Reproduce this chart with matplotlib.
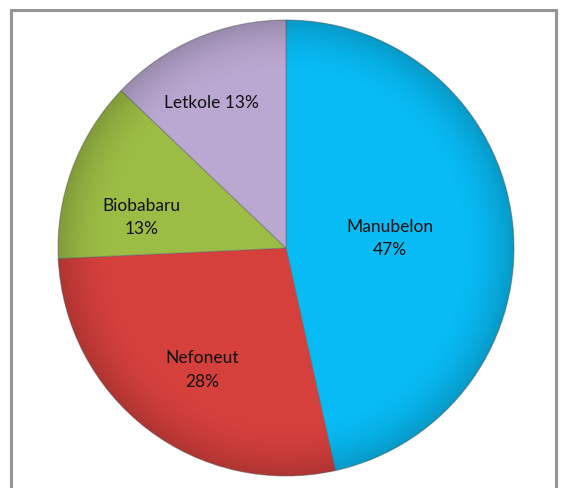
import numpy as np
import matplotlib.pyplot as plt
from matplotlib.patches import Rectangle, Circle

labels = ["Manubelon", "Nefoneut", "Biobabaru", "Letkole"]
values = [47, 28, 13, 13]
pct_text = ["Manubelon\n47%", "Nefoneut\n28%", "Biobabaru\n13%", "Letkole 13%"]
colors = ["#08BBF4", "#D5403D", "#9CBD45", "#BBA8D2"]

# label placement (radius fraction, angle offset in degrees from wedge middle)
lab_r = [0.457, 0.649, 0.646, 0.714]
lab_da = [-1, 3, 8.7, 4]

fig = plt.figure(figsize=(5.61, 4.88), dpi=100)
ax = fig.add_axes([0, 0, 1, 1])

wedges, _ = ax.pie(values, colors=colors, startangle=90, counterclock=False,
                   radius=1.0, wedgeprops=dict(edgecolor=(0.4, 0.4, 0.4, 0.5), linewidth=0.8))

# pie() resets the limits, so set them afterwards
ax.set_xlim(-286 / 228, 275 / 228)
ax.set_ylim(-240 / 228, 248 / 228)
ax.set_aspect("equal")
ax.axis("off")

# soft darkening toward the rim, like the office bevel look
n = 400
g = np.linspace(-1, 1, n)
X, Y = np.meshgrid(g, g)
R = np.sqrt(X ** 2 + Y ** 2)
shade = np.zeros((n, n, 4))
shade[..., 3] = np.clip((R - 0.75) / 0.25, 0, 1) ** 2 * 0.18
im = ax.imshow(shade, extent=(-1, 1, -1, 1), origin="lower", zorder=3)
im.set_clip_path(Circle((0, 0), 1.0, transform=ax.transData))

for w, txt, rf, da in zip(wedges, pct_text, lab_r, lab_da):
    mid = np.deg2rad((w.theta1 + w.theta2) / 2 + da)
    ax.text(rf * np.cos(mid), rf * np.sin(mid), txt, ha="center", va="center",
            fontsize=12.5, family=["Lato", "DejaVu Sans"], color="#111111",
            linespacing=1.55, zorder=5)

fig.patches.append(Rectangle((11 / 561, -0.05), (556 - 11) / 561, (488 - 10) / 488 + 0.05,
                             transform=fig.transFigure, fill=False,
                             edgecolor="#959595", linewidth=2.2))

fig.savefig("out.png", dpi=100, facecolor="white")
